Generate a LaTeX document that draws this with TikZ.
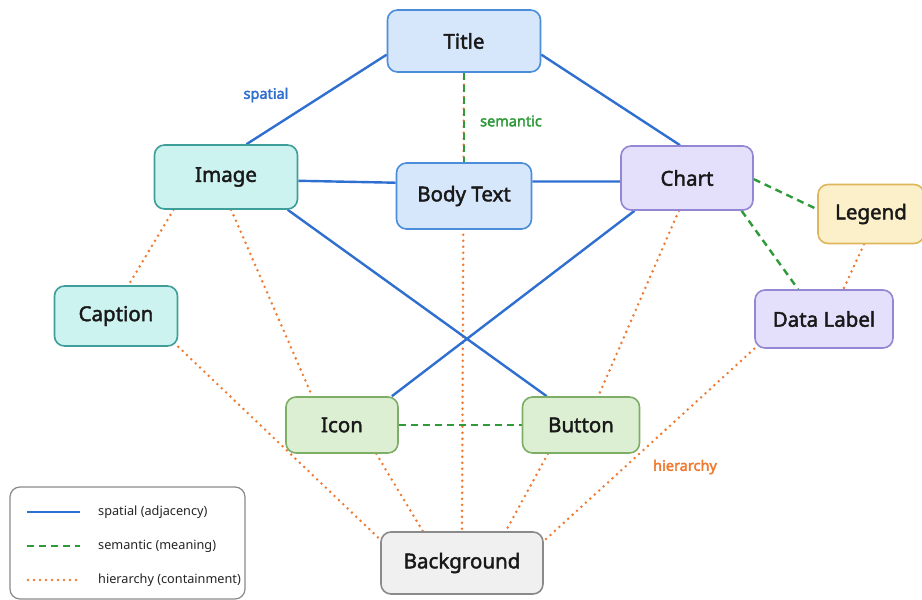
\documentclass[tikz,border=0pt]{standalone}
\usepackage{fontspec}
\setmainfont{Noto Sans}
\newfontfamily\medfont[FakeBold=2]{Noto Sans}
\newfontfamily\boldfont[FakeBold=2.6]{Noto Sans}
\usetikzlibrary{backgrounds}
\definecolor{bluefill}{HTML}{D7E7FB}
\definecolor{blueline}{HTML}{4A8DDB}
\definecolor{tealfill}{HTML}{CDF3F0}
\definecolor{tealline}{HTML}{3E9E9A}
\definecolor{purpfill}{HTML}{E4DFFA}
\definecolor{purpline}{HTML}{9386D2}
\definecolor{yelfill}{HTML}{FCF0CA}
\definecolor{yelline}{HTML}{DDB75A}
\definecolor{grnfill}{HTML}{DDEFD3}
\definecolor{grnline}{HTML}{7EAE66}
\definecolor{grayfill}{HTML}{F0F0F0}
\definecolor{grayline}{HTML}{8A8A8A}
\definecolor{spatialc}{HTML}{2F6FD0}
\definecolor{semanticc}{HTML}{2E9A3A}
\definecolor{hierc}{HTML}{F07A30}
\tikzset{
  box/.style={draw, rounded corners=10pt, line width=1.6pt, align=center,
    font=\medfont\fontsize{20.5}{24}\selectfont, text=black!90, inner sep=0pt},
  bluebox/.style={box, fill=bluefill, draw=blueline},
  tealbox/.style={box, fill=tealfill, draw=tealline},
  purpbox/.style={box, fill=purpfill, draw=purpline},
  yelbox/.style={box, fill=yelfill, draw=yelline},
  grnbox/.style={box, fill=grnfill, draw=grnline},
  graybox/.style={box, fill=grayfill, draw=grayline},
  spatial/.style={draw=spatialc, line width=2.4pt},
  semantic/.style={draw=semanticc, line width=2.4pt, dash pattern=on 7pt off 5pt},
  hier/.style={draw=hierc, line width=2.8pt, line cap=round, dash pattern=on 0pt off 6pt},
  elabel/.style={font=\boldfont\fontsize{14.5}{17}\selectfont},
  legtext/.style={font=\fontsize{12.7}{15}\selectfont, text=black!85, anchor=west, inner sep=0pt}
}
\begin{document}
\begin{tikzpicture}[x=1pt,y=-1pt]
\useasboundingbox (0,0) rectangle (922,600);
% nodes
\node[bluebox, minimum width=153pt, minimum height=62pt] (title) at (464,41) {Title};
\node[tealbox, minimum width=143pt, minimum height=64pt] (image) at (226,177) {Image};
\node[bluebox, minimum width=135pt, minimum height=66pt] (body) at (464,196) {Body Text};
\node[purpbox, minimum width=132pt, minimum height=64pt] (chart) at (687,178) {Chart};
\node[yelbox, minimum width=106pt, minimum height=59pt] (legend) at (871,214) {Legend};
\node[purpbox, minimum width=138pt, minimum height=58pt] (dlabel) at (824,319) {Data Label};
\node[tealbox, minimum width=123pt, minimum height=60pt] (caption) at (116,316) {Caption};
\node[grnbox, minimum width=112pt, minimum height=56pt] (icon) at (342,425) {Icon};
\node[grnbox, minimum width=117pt, minimum height=56pt] (button) at (581,425) {Button};
\node[graybox, minimum width=162pt, minimum height=62pt] (bg) at (462,563) {Background};
% edges
\begin{scope}[on background layer]
\fill[white] (0,0) rectangle (922,600);
\draw[hier] (title.south) -- (bg.north);
\draw[hier] (image.212) -- (caption.68);
\draw[hier] (image.279) -- (icon.136);
\draw[hier] (chart.256) -- (button.59);
\draw[hier] (legend.257) -- (dlabel.57);
\draw[hier] (caption.south east) -- (bg.164);
\draw[hier] (icon.320) -- (bg.141);
\draw[hier] (button.221) -- (bg.36);
\draw[hier] (dlabel.south west) -- (bg.15);
\draw[semantic] (title.south) -- (body.north);
\draw[semantic] (chart.359) -- (legend.175);
\draw[semantic] (chart.329) -- (dlabel.131);
\draw[semantic] (icon.east) -- (button.west);
\draw[spatial] (title.190) -- (image.58);
\draw[spatial] (title.350) -- (chart.102);
\draw[spatial] (image.357) -- (body.169);
\draw[spatial] (body.12) -- (chart.183);
\draw[spatial] (image.332) -- (button.140);
\draw[spatial] (chart.212) -- (icon.30);
\end{scope}
% edge labels
\node[elabel, text=spatialc] (lspatial) at (266,95) {spatial};
\node[elabel, text=semanticc] (lsemantic) at (511,121) {semantic};
\node[elabel, text=hierc] (lhier) at (685,467) {hierarchy};
% legend
\node[draw=grayline, line width=1.2pt, rounded corners=10pt, minimum width=235pt, minimum height=112pt, inner sep=0pt, fill=white] (key) at (127.5,543) {};
\coordinate (k1a) at (27,512); \coordinate (k1b) at (80,512);
\coordinate (k2a) at (27,546); \coordinate (k2b) at (80,546);
\coordinate (k3a) at (28,580); \coordinate (k3b) at (80,580);
\draw[spatial] (k1a) -- (k1b);
\draw[semantic] (k2a) -- (k2b);
\draw[hier] (k3a) -- (k3b);
\node[legtext] (t1) at (98,512) {spatial (adjacency)};
\node[legtext] (t2) at (98,546) {semantic (meaning)};
\node[legtext] (t3) at (98,580) {hierarchy (containment)};
\end{tikzpicture}
\end{document}
